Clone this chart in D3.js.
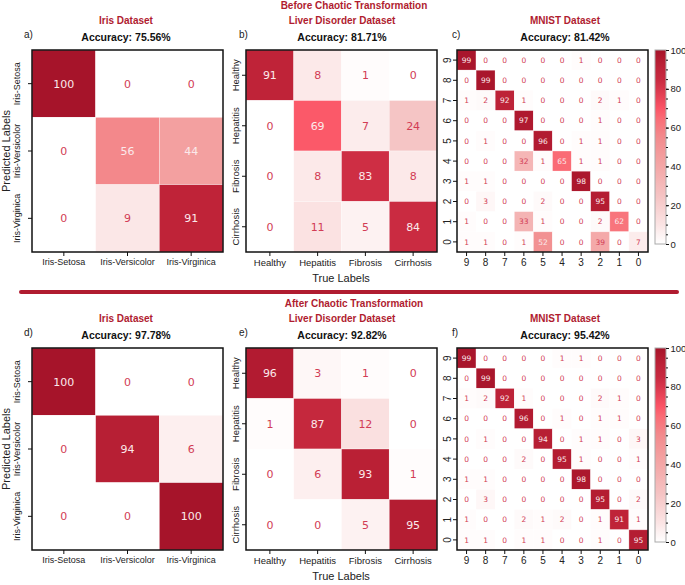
<!DOCTYPE html>
<html>
<head>
<meta charset="utf-8">
<script src="https://cdn.jsdelivr.net/npm/d3@7"></script>
<style>
  body { margin: 0; background: #fff; }
  text { font-family: "Liberation Sans", Arial, sans-serif; }
</style>
</head>
<body>
<div id="chart"></div>
<script>
// categories
var irisLabels = ['Iris-Setosa', 'Iris-Versicolor', 'Iris-Virginica'];
var liverLabels = ['Healthy', 'Hepatitis', 'Fibrosis', 'Cirrhosis'];
var mnistLabels = ['9', '8', '7', '6', '5', '4', '3', '2', '1', '0'];

// confusion matrices (rows = predicted, cols = true), in %
var irisBefore = [
  [100, 0, 0],
  [0, 56, 44],
  [0, 9, 91]
];
var liverBefore = [
  [91, 8, 1, 0],
  [0, 69, 7, 24],
  [0, 8, 83, 8],
  [0, 11, 5, 84]
];
var mnistBefore = [
  [99, 0, 0, 0, 0, 0, 1, 0, 0, 0],
  [0, 99, 0, 0, 0, 0, 0, 0, 0, 0],
  [1, 2, 92, 1, 0, 0, 0, 2, 1, 0],
  [0, 0, 0, 97, 0, 0, 0, 1, 0, 0],
  [0, 1, 0, 0, 96, 0, 1, 1, 0, 0],
  [0, 0, 0, 32, 1, 65, 1, 1, 0, 0],
  [1, 1, 0, 0, 0, 0, 98, 0, 0, 0],
  [0, 3, 0, 0, 2, 0, 0, 95, 0, 0],
  [1, 0, 0, 33, 1, 0, 0, 2, 62, 0],
  [1, 1, 0, 1, 52, 0, 0, 39, 0, 7]
];
var irisAfter = [
  [100, 0, 0],
  [0, 94, 6],
  [0, 0, 100]
];
var liverAfter = [
  [96, 3, 1, 0],
  [1, 87, 12, 0],
  [0, 6, 93, 1],
  [0, 0, 5, 95]
];
var mnistAfter = [
  [99, 0, 0, 0, 0, 1, 1, 0, 0, 0],
  [0, 99, 0, 0, 0, 0, 0, 0, 0, 0],
  [1, 2, 92, 1, 0, 0, 0, 2, 1, 0],
  [0, 0, 0, 96, 0, 1, 0, 1, 1, 0],
  [0, 1, 0, 0, 94, 0, 1, 1, 0, 3],
  [0, 0, 0, 2, 0, 95, 1, 0, 0, 1],
  [1, 1, 0, 0, 0, 0, 98, 0, 0, 0],
  [0, 3, 0, 0, 0, 0, 0, 95, 0, 2],
  [1, 0, 0, 2, 1, 2, 0, 1, 91, 1],
  [1, 1, 0, 1, 1, 0, 0, 1, 0, 95]
];

var accBefore = ['75.56%', '81.71%', '81.42%'];
var accAfter = ['97.78%', '92.82%', '95.42%'];
var datasetNames = ['Iris Dataset', 'Liver Disorder Dataset', 'MNIST Dataset'];
var cbarTicks = [0, 20, 40, 60, 80, 100];

var W = 685, H = 585;
var red = '#b01c30';

var color = d3.scaleLinear()
  .domain([0, 10, 25, 40, 55, 65, 70, 84, 92, 100])
  .range(['#ffffff', '#fbe4e4', '#f5c3c3', '#f4a7a7', '#f28b8d', '#fa6b75', '#fb5466', '#ca2b41', '#bd2237', '#a6142a'])
  .clamp(true);

var svg = d3.select('#chart').append('svg')
  .attr('width', W)
  .attr('height', H);

function drawMatrix(cfg) {
  var g = svg.append('g');
  var x = d3.scaleBand().domain(cfg.labels).range([cfg.x, cfg.x + cfg.w]);
  var y = d3.scaleBand().domain(cfg.labels).range([cfg.y, cfg.y + cfg.h]);
  var cells = [];
  cfg.values.forEach(function (row, i) {
    row.forEach(function (v, j) {
      cells.push({r: cfg.labels[i], c: cfg.labels[j], v: v});
    });
  });

  g.selectAll('rect.cell')
    .data(cells)
    .enter().append('rect')
    .attr('class', 'cell')
    .attr('x', function (d) { return x(d.c); })
    .attr('y', function (d) { return y(d.r); })
    .attr('width', x.bandwidth())
    .attr('height', y.bandwidth())
    .attr('fill', function (d) { return color(d.v); })
    .attr('stroke', 'rgba(255,255,255,0.55)')
    .attr('stroke-width', 0.6);

  g.selectAll('text.val')
    .data(cells)
    .enter().append('text')
    .attr('class', 'val')
    .attr('x', function (d) { return x(d.c) + x.bandwidth() / 2; })
    .attr('y', function (d) { return y(d.r) + y.bandwidth() / 2; })
    .attr('dy', '0.36em')
    .attr('text-anchor', 'middle')
    .style('font-family', '"DejaVu Sans", sans-serif')
    .style('font-size', cfg.fs + 'px')
    .attr('fill', function (d) { return d.v > 40 ? '#fbe9eb' : '#d23c55'; })
    .text(function (d) { return d.v; });

  // axes
  var xa = g.append('g')
    .attr('transform', 'translate(0,' + (cfg.y + cfg.h) + ')')
    .call(d3.axisBottom(x).tickSize(4).tickPadding(3));
  var ya = g.append('g')
    .attr('transform', 'translate(' + cfg.x + ',0)')
    .call(d3.axisLeft(y).tickSize(4));
  [xa, ya].forEach(function (a) {
    a.select('.domain').remove();
    a.selectAll('line').attr('stroke', '#111').attr('stroke-width', 1);
    a.selectAll('text')
      .style('font-family', '"Liberation Sans", Arial, sans-serif')
      .style('font-size', cfg.tfs + 'px')
      .attr('fill', '#222');
  });
  ya.selectAll('text')
    .attr('transform', 'rotate(-90)')
    .attr('x', 0)
    .attr('y', -cfg.ly)
    .attr('dy', 0)
    .style('text-anchor', 'middle');

  g.append('rect')
    .attr('x', cfg.x).attr('y', cfg.y)
    .attr('width', cfg.w).attr('height', cfg.h)
    .attr('fill', 'none')
    .attr('stroke', '#111')
    .attr('stroke-width', 1.5);

  // titles
  g.append('text')
    .attr('x', cfg.tx).attr('y', cfg.y - 26)
    .attr('text-anchor', 'middle')
    .style('font-size', '10px').style('font-weight', 'bold')
    .attr('fill', red)
    .text(cfg.name);
  g.append('text')
    .attr('x', cfg.tx).attr('y', cfg.y - 9)
    .attr('text-anchor', 'middle')
    .style('font-size', '10.5px').style('font-weight', 'bold')
    .attr('fill', '#111')
    .text('Accuracy: ' + cfg.acc);
  g.append('text')
    .attr('x', cfg.x - cfg.px).attr('y', cfg.y - 12)
    .style('font-size', '10px')
    .attr('fill', '#222')
    .text(cfg.letter);
}

function drawColorbar(x0, y0, w, h) {
  var id = 'grad' + Math.round(y0);
  var grad = svg.append('defs').append('linearGradient')
    .attr('id', id)
    .attr('x1', 0).attr('y1', 1).attr('x2', 0).attr('y2', 0);
  d3.range(0, 101, 5).forEach(function (v) {
    grad.append('stop').attr('offset', v + '%').attr('stop-color', color(v));
  });
  svg.append('rect')
    .attr('x', x0).attr('y', y0).attr('width', w).attr('height', h)
    .attr('fill', 'url(#' + id + ')')
    .attr('stroke', '#aaa').attr('stroke-width', 1);
  var s = d3.scaleLinear().domain([0, 100]).range([y0 + h, y0]);
  var minor = svg.append('g')
    .attr('transform', 'translate(' + (x0 + w) + ',0)')
    .call(d3.axisRight(s).tickValues(d3.range(0, 101, 5)).tickSize(2).tickFormat(''));
  minor.select('.domain').remove();
  var major = svg.append('g')
    .attr('transform', 'translate(' + (x0 + w) + ',0)')
    .call(d3.axisRight(s).tickValues(cbarTicks).tickSize(3).tickPadding(1.5));
  major.select('.domain').remove();
  svg.selectAll('.tick line').attr('stroke', '#111');
  major.selectAll('text')
    .style('font-family', '"Liberation Sans", Arial, sans-serif')
    .style('font-size', '9.5px').attr('fill', '#222');
}

function drawRow(y0, values, acc, letters, heading) {
  var names = datasetNames;
  drawMatrix({labels: irisLabels, values: values[0], x: 32, y: y0, w: 191, h: 202, fs: 11, tfs: 9, ly: 12,
    name: names[0], acc: acc[0], tx: 126, letter: letters[0], px: 8});
  drawMatrix({labels: liverLabels, values: values[1], x: 246, y: y0, w: 191, h: 202, fs: 11, tfs: 9.5, ly: 7,
    name: names[1], acc: acc[1], tx: 342, letter: letters[1], px: 7});
  drawMatrix({labels: mnistLabels, values: values[2], x: 457, y: y0, w: 191, h: 202, fs: 7.5, tfs: 10, ly: 6,
    name: names[2], acc: acc[2], tx: 565, letter: letters[2], px: 5});
  drawColorbar(655, y0, 11, 194);

  svg.append('text')
    .attr('x', 354).attr('y', y0 - 41)
    .attr('text-anchor', 'middle')
    .style('font-size', '10px').style('font-weight', 'bold')
    .attr('fill', red)
    .text(heading);
  svg.append('text')
    .attr('transform', 'translate(9.5,' + (y0 + 101) + ') rotate(-90)')
    .attr('text-anchor', 'middle')
    .style('font-size', '11px')
    .attr('fill', '#222')
    .text('Predicted Labels');
  svg.append('text')
    .attr('x', 341).attr('y', y0 + 232)
    .attr('text-anchor', 'middle')
    .style('font-size', '11px')
    .attr('fill', '#222')
    .text('True Labels');
}

drawRow(50, [irisBefore, liverBefore, mnistBefore], accBefore, ['a)', 'b)', 'c)'], 'Before Chaotic Transformation');
drawRow(348, [irisAfter, liverAfter, mnistAfter], accAfter, ['d)', 'e)', 'f)'], 'After Chaotic Transformation');

// separator
svg.append('line')
  .attr('x1', 21).attr('x2', 677)
  .attr('y1', 292).attr('y2', 292)
  .attr('stroke', red)
  .attr('stroke-width', 4)
  .attr('stroke-linecap', 'round');
</script>
</body>
</html>
